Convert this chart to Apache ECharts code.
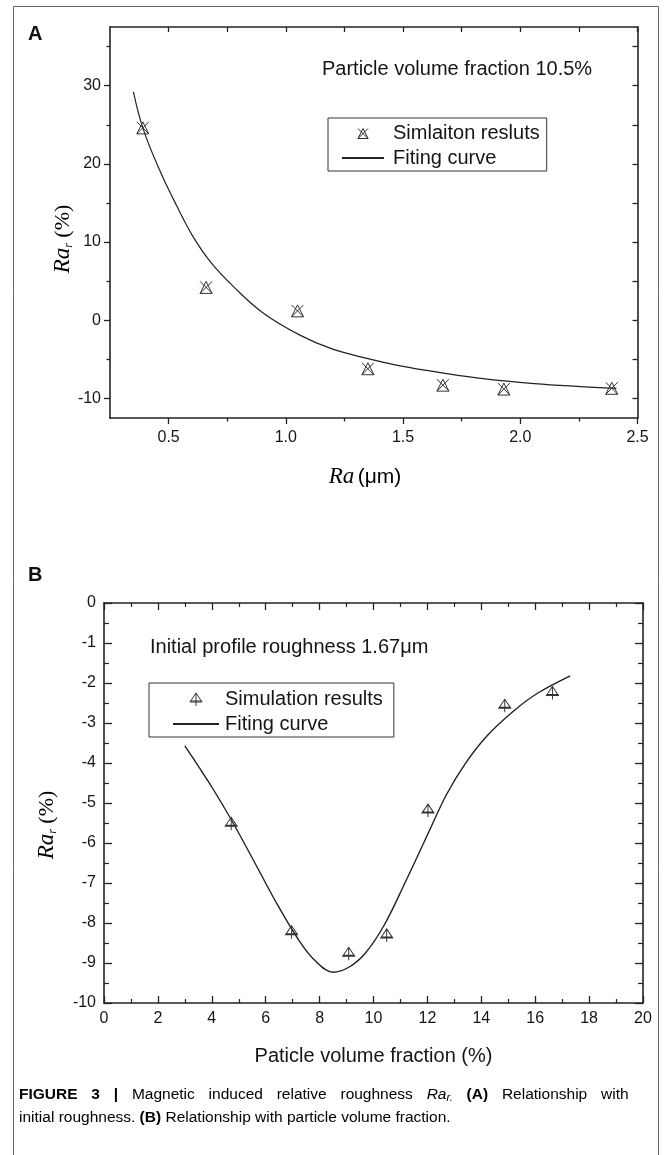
<!DOCTYPE html>
<html>
<head>
<meta charset="utf-8">
<script src="https://cdn.jsdelivr.net/npm/echarts@6/dist/echarts.min.js"></script>
<style>
html,body{margin:0;padding:0;background:#fff;}
#chart{width:669px;height:1155px;}
</style>
</head>
<body>
<div id="chart"></div>
<script>
// ---------- Panel A data ----------
const raX = [0.39, 0.66, 1.05, 1.35, 1.67, 1.93, 2.39];
const raY = [24.6, 4.2, 1.2, -6.2, -8.3, -8.8, -8.7];
const fitAX = [0.35, 0.39, 0.46, 0.535, 0.61, 0.68, 0.78, 0.90, 1.06, 1.20, 1.35, 1.50, 1.66, 1.85, 2.06, 2.24, 2.41];
const fitAY = [29.2, 24.6, 19.3, 14.6, 10.4, 7.4, 4.2, 1.0, -1.9, -3.7, -4.9, -5.9, -6.7, -7.5, -8.1, -8.45, -8.7];
const xTicksA = [0.5, 1.0, 1.5, 2.0, 2.5];
const xMinorA = [0.75, 1.25, 1.75, 2.25];
const yTicksA = [-10, 0, 10, 20, 30];
const yMinorA = [-5, 5, 15, 25, 35];

// ---------- Panel B data ----------
const volX = [4.72, 6.96, 9.08, 10.49, 12.02, 14.87, 16.64];
const volY = [-5.52, -8.23, -8.77, -8.31, -5.19, -2.57, -2.25];
const fitBX = [3.0, 3.5, 4.0, 4.75, 5.6, 6.4, 7.2, 7.8, 8.5, 9.1, 9.7, 10.4, 11.2, 12.0, 12.7, 13.4, 14.2, 15.2, 16.1, 17.3];
const fitBY = [-3.57, -4.08, -4.6, -5.45, -6.5, -7.5, -8.4, -8.92, -9.23, -9.1, -8.75, -8.05, -6.95, -5.8, -4.8, -4.02, -3.33, -2.7, -2.25, -1.82];

const zip = (a, b) => a.map((v, i) => [v, b[i]]);

const SANS = "'Liberation Sans', Arial, Helvetica, sans-serif";
const SERIF = "'Liberation Serif', 'Times New Roman', serif";
const INK = '#151515';
const AX = '#222';

const symA = 'path://M0,0 L10,10 M10,0 L0,10 M5,0 L10,10 L0,10 Z';
const symB = 'path://M6,0 L12,9 L0,9 Z M6,0 L6,13 M0,8 L12,8';
const legA = 'path://M-5,-5 M15,15 M0,0 L10,10 M10,0 L0,10 M5,0 L10,10 L0,10 Z';
const legB = 'path://M-4,-3.5 M16,16.5 M6,0 L12,9 L0,9 Z M6,0 L6,13 M0,8 L12,8';

const lineAx = {show: true, onZero: false, lineStyle: {color: AX, width: 1.6}};
const hiddenLine = {show: false, onZero: false};
const noLabel = {show: false};

const chart = echarts.init(document.getElementById('chart'), null, {renderer: 'canvas'});

const option = {
  animation: false,
  backgroundColor: '#fff',
  grid: [
    {left: 110, top: 27, width: 527.5, height: 391},
    {left: 104, top: 603, width: 539, height: 400}
  ],
  xAxis: [
    {gridIndex: 0, type: 'value', position: 'bottom', min: 0.25, max: 2.5,
     axisLine: lineAx, splitLine: {show: false},
     axisTick: {show: true, customValues: xTicksA, length: 6, inside: false, lineStyle: {color: AX, width: 1.3}},
     axisLabel: {customValues: xTicksA, formatter: v => v.toFixed(1), color: INK, fontSize: 16, fontFamily: SANS, margin: 12}},
    {gridIndex: 0, type: 'value', position: 'bottom', min: 0.25, max: 2.5,
     axisLine: hiddenLine, splitLine: {show: false},
     axisTick: {show: true, customValues: xMinorA, length: 3.5, inside: false, lineStyle: {color: AX, width: 1.3}},
     axisLabel: noLabel},
    {gridIndex: 0, type: 'value', position: 'top', min: 0.25, max: 2.5,
     axisLine: lineAx, splitLine: {show: false},
     axisTick: {show: true, customValues: xTicksA.concat(xMinorA), length: 5, inside: true, lineStyle: {color: AX, width: 1.3}},
     axisLabel: noLabel},
    {gridIndex: 1, type: 'value', position: 'bottom', min: 0, max: 20, interval: 2,
     axisLine: lineAx, splitLine: {show: false},
     axisTick: {show: true, length: 7, inside: true, lineStyle: {color: AX, width: 1.3}},
     minorTick: {show: true, splitNumber: 2, length: 4, lineStyle: {color: AX, width: 1.2}},
     axisLabel: {color: INK, fontSize: 16, fontFamily: SANS, margin: 8}},
    {gridIndex: 1, type: 'value', position: 'top', min: 0, max: 20, interval: 2,
     axisLine: lineAx, splitLine: {show: false},
     axisTick: {show: true, length: 7, inside: true, lineStyle: {color: AX, width: 1.3}},
     minorTick: {show: true, splitNumber: 2, length: 4, lineStyle: {color: AX, width: 1.2}},
     axisLabel: noLabel}
  ],
  yAxis: [
    {gridIndex: 0, type: 'value', position: 'left', min: -12.5, max: 37.5,
     axisLine: lineAx, splitLine: {show: false},
     axisTick: {show: true, customValues: yTicksA, length: 6, inside: false, lineStyle: {color: AX, width: 1.3}},
     axisLabel: {customValues: yTicksA, color: INK, fontSize: 16, fontFamily: SANS, margin: 9}},
    {gridIndex: 0, type: 'value', position: 'left', min: -12.5, max: 37.5,
     axisLine: hiddenLine, splitLine: {show: false},
     axisTick: {show: true, customValues: yMinorA, length: 3.5, inside: false, lineStyle: {color: AX, width: 1.3}},
     axisLabel: noLabel},
    {gridIndex: 0, type: 'value', position: 'right', min: -12.5, max: 37.5,
     axisLine: lineAx, splitLine: {show: false},
     axisTick: {show: true, customValues: yTicksA.concat(yMinorA), length: 5, inside: true, lineStyle: {color: AX, width: 1.3}},
     axisLabel: noLabel},
    {gridIndex: 1, type: 'value', position: 'left', min: -10, max: 0, interval: 1,
     axisLine: lineAx, splitLine: {show: false},
     axisTick: {show: true, length: 8, inside: true, lineStyle: {color: AX, width: 1.3}},
     minorTick: {show: true, splitNumber: 2, length: 5, lineStyle: {color: AX, width: 1.2}},
     axisLabel: {color: INK, fontSize: 16, fontFamily: SANS, margin: 8}},
    {gridIndex: 1, type: 'value', position: 'right', min: -10, max: 0, interval: 1,
     axisLine: lineAx, splitLine: {show: false},
     axisTick: {show: true, length: 8, inside: true, lineStyle: {color: AX, width: 1.3}},
     minorTick: {show: true, splitNumber: 2, length: 5, lineStyle: {color: AX, width: 1.2}},
     axisLabel: noLabel}
  ],
  legend: [
    {left: 328, top: 118, orient: 'vertical', padding: [5, 7, 3, 13], itemGap: 4,
     itemWidth: 42, itemHeight: 20, borderColor: '#333', borderWidth: 1, borderRadius: 0,
     selectedMode: false, textStyle: {color: INK, fontSize: 20, fontFamily: SANS, padding: [0, 0, 0, 4]},
     data: [
       {name: 'Simlaiton resluts', icon: legA, itemStyle: {color: 'rgba(0,0,0,0)', borderColor: '#333', borderWidth: 1}},
       {name: 'Fiting curve', itemStyle: {color: 'rgba(0,0,0,0)', borderColor: 'rgba(0,0,0,0)', borderWidth: 0}}
     ]},
    {left: 149, top: 683, orient: 'vertical', padding: [6, 11, 3, 23], itemGap: 4,
     itemWidth: 46, itemHeight: 20, borderColor: '#333', borderWidth: 1, borderRadius: 0,
     selectedMode: false, textStyle: {color: INK, fontSize: 20, fontFamily: SANS, padding: [0, 0, 0, 1]},
     data: [
       {name: 'Simulation results', icon: legB, itemStyle: {color: 'rgba(0,0,0,0)', borderColor: '#333', borderWidth: 1}},
       {name: 'Fiting curve', itemStyle: {color: 'rgba(0,0,0,0)', borderColor: 'rgba(0,0,0,0)', borderWidth: 0}}
     ]}
  ],
  series: [
    {name: 'Fiting curve', type: 'line', xAxisIndex: 0, yAxisIndex: 0, data: zip(fitAX, fitAY),
     symbol: 'none', smooth: 0.4, lineStyle: {color: '#222', width: 1.2}, z: 3},
    {name: 'Simlaiton resluts', type: 'scatter', xAxisIndex: 0, yAxisIndex: 0, data: zip(raX, raY),
     symbol: symA, symbolSize: 12,
     itemStyle: {color: 'rgba(0,0,0,0)', borderColor: '#333', borderWidth: 1, opacity: 1}, z: 4},
    {name: 'Fiting curve', type: 'line', xAxisIndex: 3, yAxisIndex: 3, data: zip(fitBX, fitBY),
     symbol: 'none', smooth: 0.35, lineStyle: {color: '#222', width: 1.4}, z: 3},
    {name: 'Simulation results', type: 'scatter', xAxisIndex: 3, yAxisIndex: 3, data: zip(volX, volY),
     symbol: symB, symbolSize: [12, 13],
     itemStyle: {color: 'rgba(0,0,0,0)', borderColor: '#333', borderWidth: 1, opacity: 1}, z: 4}
  ],
  graphic: [
    {type: 'rect', shape: {x: 13.5, y: 6.5, width: 645, height: 1165}, style: {fill: 'none', stroke: '#666', lineWidth: 1}, silent: true, z: -10},
    {type: 'text', x: 28, y: 34, style: {text: 'A', font: 'bold 20px ' + SANS, fill: '#111', verticalAlign: 'middle'}},
    {type: 'text', x: 28, y: 575, style: {text: 'B', font: 'bold 20px ' + SANS, fill: '#111', verticalAlign: 'middle'}},
    {type: 'text', x: 322, y: 69, style: {text: 'Particle volume fraction 10.5%', font: '20px ' + SANS, fill: INK, verticalAlign: 'middle'}},
    {type: 'text', x: 150, y: 647, style: {text: 'Initial profile roughness 1.67μm', font: '20px ' + SANS, fill: INK, verticalAlign: 'middle'}},
    {type: 'text', x: 365, y: 477, style: {
      text: '{i|Ra} {n|(μm)}', align: 'center', verticalAlign: 'middle',
      rich: {i: {fontFamily: SERIF, fontStyle: 'italic', fontSize: 23, color: INK},
             n: {fontFamily: SANS, fontSize: 21, color: INK}}}},
    {type: 'text', x: 63, y: 239, rotation: Math.PI / 2, style: {
      text: '{i|Ra}{s|r}{n| (%)}', align: 'center', verticalAlign: 'middle',
      rich: {i: {fontFamily: SERIF, fontStyle: 'italic', fontSize: 23, color: INK},
             s: {fontFamily: SERIF, fontStyle: 'italic', fontSize: 12, color: INK, verticalAlign: 'bottom', lineHeight: 12},
             n: {fontFamily: SERIF, fontSize: 22, color: INK}}}},
    {type: 'text', x: 373.5, y: 1056, style: {text: 'Paticle volume fraction (%)', font: '20px ' + SANS, fill: INK, align: 'center', verticalAlign: 'middle'}},
    {type: 'text', x: 47, y: 825, rotation: Math.PI / 2, style: {
      text: '{i|Ra}{s|r}{n| (%)}', align: 'center', verticalAlign: 'middle',
      rich: {i: {fontFamily: SERIF, fontStyle: 'italic', fontSize: 23, color: INK},
             s: {fontFamily: SERIF, fontStyle: 'italic', fontSize: 12, color: INK, verticalAlign: 'bottom', lineHeight: 12},
             n: {fontFamily: SERIF, fontSize: 22, color: INK}}}},
    {type: 'text', x: 19, y: 1095, style: {
      text: '{b|FIGURE}{g| }{b|3}{g| }{b||}{g| }{t|Magnetic}{g| }{t|induced}{g| }{t|relative}{g| }{t|roughness}{g| }{it|Ra}{sub|r.}{g| }{b|(A)}{g| }{t|Relationship}{g| }{t|with}',
      verticalAlign: 'middle',
      rich: {b: {fontFamily: SANS, fontWeight: 'bold', fontSize: 15.5, color: '#222'},
             t: {fontFamily: SANS, fontSize: 15.5, color: '#333'},
             it: {fontFamily: SANS, fontStyle: 'italic', fontSize: 15.5, color: '#333'},
             sub: {fontFamily: SANS, fontStyle: 'italic', fontSize: 11, color: '#333', verticalAlign: 'bottom', lineHeight: 11},
             g: {fontFamily: SANS, fontSize: 15.5, width: 13.8}}}},
    {type: 'text', x: 19, y: 1118, style: {
      text: '{t|initial roughness. }{b|(B)}{t| Relationship with particle volume fraction.}',
      verticalAlign: 'middle',
      rich: {b: {fontFamily: SANS, fontWeight: 'bold', fontSize: 15.5, color: '#222'},
             t: {fontFamily: SANS, fontSize: 15.5, color: '#333'}}}}
  ]
};
chart.setOption(option);
</script>
</body>
</html>
